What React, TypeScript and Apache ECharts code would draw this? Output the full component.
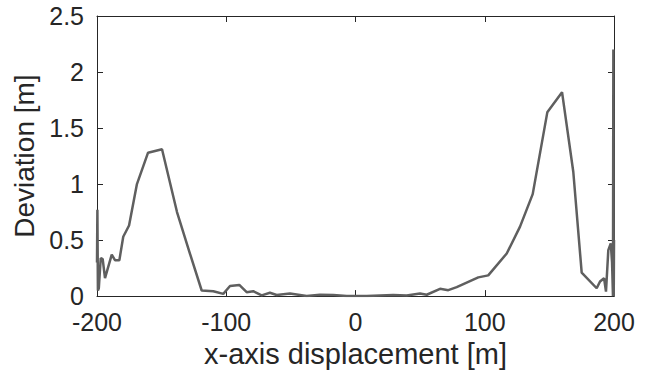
import React, { useEffect, useRef } from "react";
import * as echarts from "echarts";

const xTicks = [-200, -100, 0, 100, 200];
const yTicks = [0, 0.5, 1, 1.5, 2, 2.5];

const xs = [
  -200, -199.7, -199.3, -198.6, -197.1, -195.6, -193.8, -188.6, -186.1, -182.7,
  -179.7, -175.2, -169.1, -160.5, -149.7, -138.1, -128.1, -119.0, -110.0, -102.3,
  -97.1, -89.9, -84.2, -79.1, -72.6, -66.2, -61.0, -50.7, -37.8, -27.5,
  -17.2, -6.8, 8.7, 29.2, 39.6, 49.9, 55.1, 65.4, 71.8, 78.3,
  95.0, 102.7, 117.0, 127.3, 137.1, 148.4, 159.8, 168.5, 175.0, 186.6,
  189.2, 192.3, 193.8, 195.6, 197.5, 198.5, 199.2, 199.5, 199.8, 200,
];
const ys = [
  0.3, 0.77, 0.05, 0.07, 0.34, 0.33, 0.16, 0.37, 0.32, 0.32,
  0.53, 0.63, 1.0, 1.28, 1.31, 0.75, 0.38, 0.05, 0.044, 0.02,
  0.09, 0.1, 0.035, 0.044, 0.006, 0.03, 0.01, 0.024, 0.0, 0.012,
  0.01, 0.0, 0.0, 0.01, 0.006, 0.024, 0.012, 0.065, 0.053, 0.08,
  0.167, 0.185, 0.38, 0.62, 0.91, 1.64, 1.82, 1.11, 0.21, 0.07,
  0.13, 0.16, 0.04, 0.41, 0.47, 0.3, 0.0, 2.2, 0.0, 0.5,
];

const FONT = "'Liberation Sans', Arial, Helvetica, sans-serif";
const TXT = "#262626";

export default function App() {
  const ref = useRef<HTMLDivElement>(null);
  useEffect(() => {
    if (!ref.current) return;
    const chart = echarts.init(ref.current, undefined, { renderer: "svg" });
    const axisLine = { show: true, onZero: false, lineStyle: { color: TXT, width: 1 } };
    const tick = { show: true, inside: true, length: 6, lineStyle: { color: TXT, width: 1 } };
    chart.setOption({
      animation: false,
      backgroundColor: "#ffffff",
      grid: { left: 97, right: 43, top: 16, bottom: 73, containLabel: false },
      xAxis: [
        {
          type: "value",
          min: -200,
          max: 200,
          interval: 100,
          position: "bottom",
          axisLine,
          axisTick: tick,
          splitLine: { show: false },
          axisLabel: {
            color: TXT,
            fontFamily: FONT,
            fontSize: 25,
            margin: 13,
            formatter: (v: number) => (xTicks.includes(v) ? String(v) : ""),
          },
          name: "x-axis displacement [m]",
          nameLocation: "middle",
          nameGap: 41,
          nameTextStyle: { color: TXT, fontFamily: FONT, fontSize: 29 },
        },
        {
          type: "value",
          min: -200,
          max: 200,
          interval: 100,
          position: "top",
          axisLine,
          axisTick: tick,
          axisLabel: { show: false },
          splitLine: { show: false },
        },
      ],
      yAxis: [
        {
          type: "value",
          min: 0,
          max: 2.5,
          interval: 0.5,
          position: "left",
          axisLine,
          axisTick: tick,
          splitLine: { show: false },
          axisLabel: {
            color: TXT,
            fontFamily: FONT,
            fontSize: 25,
            margin: 13,
            formatter: (v: number) => (yTicks.includes(v) ? String(v) : ""),
          },
          name: "Deviation [m]",
          nameLocation: "middle",
          nameGap: 56,
          nameRotate: 90,
          nameTextStyle: { color: TXT, fontFamily: FONT, fontSize: 28 },
        },
        {
          type: "value",
          min: 0,
          max: 2.5,
          interval: 0.5,
          position: "right",
          axisLine,
          axisTick: tick,
          axisLabel: { show: false },
          splitLine: { show: false },
        },
      ],
      series: [
        {
          type: "line",
          data: xs.map((x, i) => [x, ys[i]]),
          showSymbol: false,
          symbol: "none",
          clip: true,
          lineStyle: { color: "#5f5f5f", width: 2.5 },
        },
      ],
    });
    return () => chart.dispose();
  }, []);
  return (
    <div
      ref={ref}
      style={{ position: "fixed", left: 0, top: 0, width: 657, height: 373 }}
    />
  );
}
